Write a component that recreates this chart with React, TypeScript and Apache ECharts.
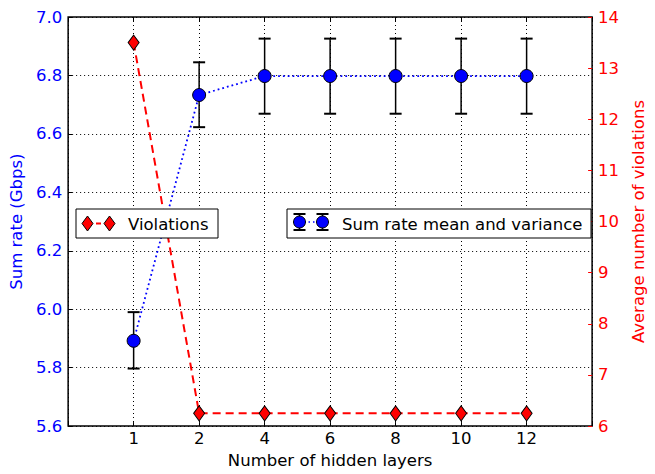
import React, { useEffect, useRef } from "react";
import * as echarts from "echarts";

const hiddenLayers = ["1", "2", "4", "6", "8", "10", "12"];
const sumRateMean = [5.892, 6.733, 6.798, 6.798, 6.798, 6.798, 6.798];
const sumRateLow = [5.797, 6.623, 6.669, 6.669, 6.669, 6.669, 6.669];
const sumRateHigh = [5.99, 6.845, 6.926, 6.926, 6.926, 6.926, 6.926];
const violations = [13.5, 6.25, 6.25, 6.25, 6.25, 6.25, 6.25];
const leftTicks = [5.6, 5.8, 6.0, 6.2, 6.4, 6.6, 6.8, 7.0];

const FONT = "DejaVu Sans";
const FS = 16.5;

export default function App() {
  const ref = useRef<HTMLDivElement>(null);
  useEffect(() => {
    if (!ref.current) return;
    const chart = echarts.init(ref.current, undefined, { renderer: "svg" });
    const xs = hiddenLayers.map((_, i) => i + 1);
    const meanData = xs.map((x, i) => [x, sumRateMean[i]]);
    const errData = xs.map((x, i) => [x, sumRateLow[i], sumRateHigh[i]]);
    const violData = xs.map((x, i) => [x, violations[i]]);

    const diamond = (cx: number, cy: number) => ({
      type: "polygon",
      shape: {
        points: [
          [cx, cy - 7.5],
          [cx + 5.5, cy],
          [cx, cy + 7.5],
          [cx - 5.5, cy],
        ],
      },
      style: { fill: "#ff0000", stroke: "#000", lineWidth: 1 },
      z: 102,
    });
    const errIcon = (cx: number, cy: number) => [
      { type: "line", shape: { x1: cx, y1: cy - 8, x2: cx, y2: cy + 8 }, style: { stroke: "#000", lineWidth: 1.5 }, z: 101 },
      { type: "line", shape: { x1: cx - 6, y1: cy - 8, x2: cx + 6, y2: cy - 8 }, style: { stroke: "#000", lineWidth: 2 }, z: 101 },
      { type: "line", shape: { x1: cx - 6, y1: cy + 8, x2: cx + 6, y2: cy + 8 }, style: { stroke: "#000", lineWidth: 2 }, z: 101 },
      { type: "circle", shape: { cx, cy, r: 6 }, style: { fill: "#0000ff", stroke: "#000", lineWidth: 1 }, z: 102 },
    ];

    chart.setOption({
      animation: false,
      textStyle: { fontFamily: FONT },
      grid: {
        left: 68,
        right: 57,
        top: 17,
        bottom: 45,
        show: true,
        borderColor: "#000",
        borderWidth: 1.5,
        backgroundColor: "transparent",
      },
      xAxis: [
        {
          type: "value",
          min: 0,
          max: 8,
          interval: 1,
          name: "Number of hidden layers",
          nameLocation: "middle",
          nameGap: 22,
          nameTextStyle: { color: "#000", fontSize: FS, fontFamily: FONT },
          axisLine: { show: false, onZero: false },
          axisTick: {
            show: true,
            inside: true,
            length: 4,
            lineStyle: { color: "#000" },
          },
          axisLabel: {
            color: "#000",
            fontSize: FS,
            fontFamily: FONT,
            margin: 4,
            formatter: (v: number) =>
              v >= 1 && v <= hiddenLayers.length ? hiddenLayers[v - 1] : "",
          },
          splitLine: {
            show: true,
            lineStyle: { color: "#000", type: [1, 3], width: 1 },
          },
        },
        {
          type: "value",
          position: "top",
          min: 0,
          max: 8,
          interval: 1,
          axisLine: { show: false, onZero: false },
          axisTick: { show: true, inside: true, length: 4, lineStyle: { color: "#000" } },
          axisLabel: { show: false },
          splitLine: { show: false },
        },
      ],
      yAxis: [
        {
          type: "value",
          min: leftTicks[0],
          max: leftTicks[leftTicks.length - 1],
          interval: 0.2,
          name: "Sum rate (Gbps)",
          nameLocation: "middle",
          nameGap: 39,
          nameTextStyle: { color: "#0000ff", fontSize: FS, fontFamily: FONT },
          axisLine: { show: false, onZero: false },
          axisTick: { show: true, inside: true, length: 4, lineStyle: { color: "#000" } },
          axisLabel: {
            color: "#0000ff",
            fontSize: FS,
            fontFamily: FONT,
            margin: 6,
            formatter: (v: number) => v.toFixed(1),
          },
          splitLine: {
            show: true,
            lineStyle: { color: "#000", type: [1, 3], width: 1 },
          },
        },
        {
          type: "value",
          min: 6,
          max: 14,
          interval: 1,
          position: "right",
          name: "Average number of violations",
          nameLocation: "middle",
          nameGap: 32,
          nameTextStyle: { color: "#ff0000", fontSize: FS, fontFamily: FONT },
          axisLine: { show: false, onZero: false },
          axisTick: { show: true, inside: true, length: 4, lineStyle: { color: "#ff0000" } },
          axisLabel: { color: "#ff0000", fontSize: FS, fontFamily: FONT, margin: 6 },
          splitLine: { show: false },
        },
      ],
      series: [
        {
          type: "custom",
          name: "errbars",
          xAxisIndex: 0,
          yAxisIndex: 0,
          z: 3,
          data: errData,
          renderItem: (params: any, api: any) => {
            const x = api.value(0);
            const lo = api.coord([x, api.value(1)]);
            const hi = api.coord([x, api.value(2)]);
            const cap = 6;
            return {
              type: "group",
              children: [
                { type: "line", shape: { x1: lo[0], y1: lo[1], x2: hi[0], y2: hi[1] }, style: { stroke: "#000", lineWidth: 1.5 } },
                { type: "line", shape: { x1: lo[0] - cap, y1: lo[1], x2: lo[0] + cap, y2: lo[1] }, style: { stroke: "#000", lineWidth: 2 } },
                { type: "line", shape: { x1: hi[0] - cap, y1: hi[1], x2: hi[0] + cap, y2: hi[1] }, style: { stroke: "#000", lineWidth: 2 } },
              ],
            };
          },
        },
        {
          type: "line",
          name: "Sum rate mean and variance",
          xAxisIndex: 0,
          yAxisIndex: 0,
          z: 4,
          data: meanData,
          symbol: "circle",
          symbolSize: 13,
          showSymbol: true,
          lineStyle: { color: "#0000ff", width: 1.8, type: [1.8, 3] },
          itemStyle: { color: "#0000ff", borderColor: "#000", borderWidth: 1 },
        },
        {
          type: "line",
          name: "Violations",
          xAxisIndex: 0,
          yAxisIndex: 1,
          z: 5,
          data: violData,
          symbol: "diamond",
          symbolSize: [11, 15],
          lineStyle: { color: "#ff0000", width: 2, type: [8, 5] },
          itemStyle: { color: "#ff0000", borderColor: "#000", borderWidth: 1 },
        },
      ],
      graphic: [
        {
          type: "rect",
          shape: { x: 76, y: 209, width: 142, height: 29 },
          style: { fill: "#fff", stroke: "#000", lineWidth: 1 },
          z: 100,
        },
        {
          type: "line",
          shape: { x1: 87, y1: 223.5, x2: 109, y2: 223.5 },
          style: { stroke: "#ff0000", lineWidth: 2, lineDash: [5, 4] },
          z: 101,
        },
        diamond(87.5, 223.5),
        diamond(109.5, 223.5),
        {
          type: "text",
          x: 128,
          y: 224,
          style: { text: "Violations", fill: "#000", font: `${FS}px "${FONT}"`, verticalAlign: "middle" },
          z: 101,
        },
        {
          type: "rect",
          shape: { x: 287, y: 209, width: 304, height: 29 },
          style: { fill: "#fff", stroke: "#000", lineWidth: 1 },
          z: 100,
        },
        {
          type: "line",
          shape: { x1: 299.5, y1: 222, x2: 322.5, y2: 222 },
          style: { stroke: "#0000ff", lineWidth: 1.5, lineDash: [1.5, 3] },
          z: 101,
        },
        ...errIcon(299.5, 222),
        ...errIcon(322.5, 222),
        {
          type: "text",
          x: 342,
          y: 224,
          style: { text: "Sum rate mean and variance", fill: "#000", font: `${FS}px "${FONT}"`, verticalAlign: "middle" },
          z: 101,
        },
      ],
    });
    return () => chart.dispose();
  }, []);
  return <div ref={ref} style={{ width: 655, height: 474, position: "absolute", left: 0, top: 0 }} />;
}
